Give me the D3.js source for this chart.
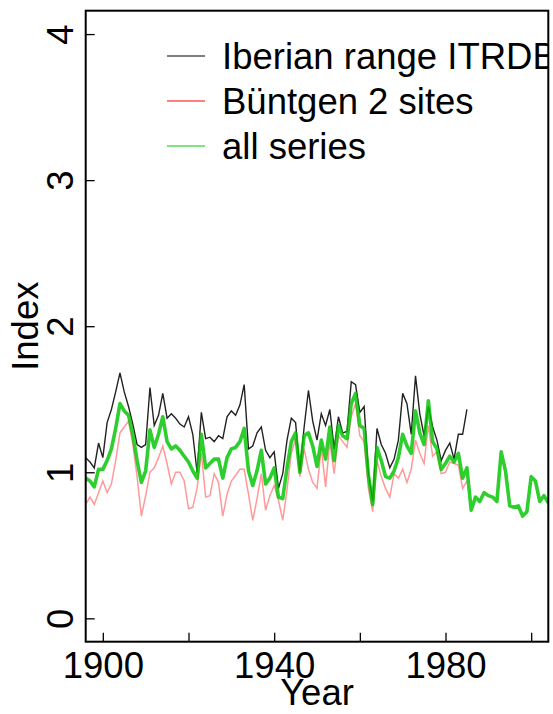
<!DOCTYPE html>
<html><head><meta charset="utf-8">
<script src="https://cdn.jsdelivr.net/npm/d3@7"></script>
<style>body{margin:0;background:#fff}svg{display:block}text{font-family:"Liberation Sans",Arial,sans-serif}</style>
</head><body>
<script>
const startYear = 1896;
const iberian = [1.10,1.07,1.03,1.20,1.10,1.34,1.43,1.55,1.68,1.55,1.45,1.33,1.19,1.17,1.19,1.58,1.32,1.39,1.54,1.37,1.40,1.37,1.33,1.31,1.38,1.26,1.00,1.41,1.23,1.24,1.21,1.25,1.23,1.38,1.42,1.39,
  1.46,1.60,1.16,1.18,1.27,1.31,1.15,1.10,1.14,0.89,0.99,1.22,1.37,1.34,1.01,1.31,1.56,1.35,1.22,1.40,1.32,1.43,1.16,1.38,1.27,1.28,1.62,1.60,1.41,1.45,1.00,0.80,1.30,1.19,1.13,1.03,
  1.09,1.22,1.54,1.47,1.26,1.66,1.40,1.25,1.45,1.31,1.22,1.08,1.15,1.20,1.09,1.26,1.26,1.43];
const buntgen = [0.78,0.83,0.78,0.86,0.94,0.86,0.92,1.08,1.27,1.31,1.35,1.19,0.97,0.70,0.84,1.00,1.03,1.10,1.18,1.06,0.92,1.00,1.00,0.94,0.75,0.76,0.89,1.13,0.83,0.84,0.99,0.93,0.70,0.85,0.94,0.98,
  1.02,1.02,0.85,0.67,0.82,0.99,0.74,0.84,0.91,0.81,0.67,0.88,1.13,1.23,0.97,1.16,1.02,0.93,0.89,1.17,0.90,1.21,0.99,1.25,1.21,1.17,1.38,1.47,1.25,1.21,0.89,0.73,1.08,0.97,0.89,0.83,
  0.99,0.96,1.02,0.93,1.02,1.22,1.13,1.06,1.32,1.11,1.14,0.99,1.00,1.07,1.06,1.05,0.89,0.94];
const allSeries = [0.96,0.94,0.90,1.02,1.02,1.08,1.16,1.30,1.47,1.42,1.39,1.26,1.08,0.93,1.01,1.29,1.17,1.26,1.38,1.21,1.16,1.18,1.15,1.11,1.07,1.01,0.96,1.26,1.03,1.06,1.09,1.09,0.96,1.10,1.16,1.17,
  1.21,1.30,1.01,0.91,1.01,1.15,0.92,0.96,1.03,0.83,0.82,1.03,1.21,1.27,1.00,1.25,1.27,1.18,1.04,1.22,1.09,1.31,1.08,1.32,1.25,1.23,1.47,1.54,1.32,1.30,0.98,0.78,1.17,1.08,0.97,0.96,
  1.01,1.10,1.26,1.18,1.13,1.42,1.27,1.19,1.49,1.21,1.16,1.02,1.06,1.11,1.07,1.13,0.96,1.03,0.74,0.83,0.80,0.86,0.84,0.83,0.80,1.14,1.01,0.77,0.76,0.77,0.70,0.73,0.97,0.94,0.80,0.84,0.79];
const legendLabels = ["Iberian range ITRDB","Büntgen 2 sites","all series"];
const xTicks = [1900,1920,1940,1960,1980,2000];
const xLabels = [1900,1940,1980];
const yTicks = [0,1,2,3,4];

const W=553,H=714;
const svg=d3.select("body").append("svg").attr("width",W).attr("height",H);
const L=85.7,R=548.3,T=10.7,B=641.7;
const x=d3.scaleLinear().domain([1896,2004]).range([L,R]);
const y=d3.scaleLinear().domain([-0.16,4.16]).range([B,T]);
const fs=36.5;

svg.append("defs").append("clipPath").attr("id","clip").append("rect")
  .attr("x",L).attr("y",T).attr("width",R-L).attr("height",B-T);
const g=svg.append("g").attr("clip-path","url(#clip)");
const toPts=arr=>arr.map((v,i)=>[startYear+i,v]);
const line=d3.line().x(d=>x(d[0])).y(d=>y(d[1]));
g.append("path").datum(toPts(iberian)).attr("d",line).attr("fill","none").attr("stroke","#222").attr("stroke-width",1.4);
g.append("path").datum(toPts(buntgen)).attr("d",line).attr("fill","none").attr("stroke","rgba(255,0,0,0.4)").attr("stroke-width",1.5);
g.append("path").datum(toPts(allSeries)).attr("d",line).attr("fill","none").attr("stroke","rgba(0,195,0,0.82)").attr("stroke-width",3.6).attr("stroke-linejoin","round");

// legend (clipped to plot region, as in R)
const legColors=["#000","#ff0000","#00cd00"];
const legY=[56,101,146];
legendLabels.forEach((t,i)=>{
  g.append("line").attr("x1",167).attr("x2",205).attr("y1",legY[i]).attr("y2",legY[i]).attr("stroke",legColors[i]).attr("stroke-width",1.2);
  g.append("text").attr("x",222).attr("y",legY[i]).attr("dy","0.35em").attr("font-size",fs).text(t);
});

// axes with inward ticks
const xAxis=d3.axisBottom(x).tickValues(xTicks).tickSize(-9).tickFormat(d=>xLabels.includes(d)?d:"");
const ax=svg.append("g").attr("transform",`translate(0,${B})`).call(xAxis);
ax.select(".domain").remove();
ax.selectAll("line").attr("stroke","#000").attr("stroke-width",1.3);
ax.selectAll("text").attr("font-size",fs).attr("fill","#000").attr("y",36).attr("dy",0);

const yAxis=d3.axisLeft(y).tickValues(yTicks).tickSize(-9).tickFormat(d3.format("d"));
const ay=svg.append("g").attr("transform",`translate(${L},0)`).call(yAxis);
ay.select(".domain").remove();
ay.selectAll("line").attr("stroke","#000").attr("stroke-width",1.3);
ay.selectAll("text").attr("font-size",fs).attr("fill","#000").attr("x",null).attr("dy",0)
  .attr("text-anchor","middle").attr("transform","translate(-13,0) rotate(-90)");

svg.append("rect").attr("x",L).attr("y",T).attr("width",R-L).attr("height",B-T).attr("fill","none").attr("stroke","#000").attr("stroke-width",2);

svg.append("text").attr("x",(L+R)/2).attr("y",705).attr("text-anchor","middle").attr("font-size",fs).text("Year");
svg.append("text").attr("transform",`translate(38,${(T+B)/2}) rotate(-90)`).attr("text-anchor","middle").attr("font-size",fs).text("Index");
</script>
</body></html>
